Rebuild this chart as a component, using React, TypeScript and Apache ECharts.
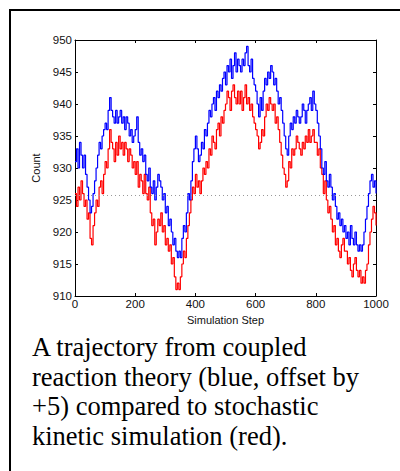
import React, { useEffect, useRef } from "react";
import * as echarts from "echarts";

// Simulation step spacing of the sampled trajectories (0..1000)
const STEP = 5;

// Stochastic kinetic simulation (red), sampled every 5 steps
const redValues: number[] = [
  926, 924, 927, 925, 928, 926, 924, 925, 922, 923,
  919, 918, 921, 923, 925, 924, 927, 928, 926, 929,
  931, 930, 933, 936, 934, 933, 931, 934, 932, 935,
  933, 934, 932, 934, 933, 931, 933, 932, 930, 931,
  929, 931, 927, 929, 928, 926, 929, 926, 925, 927,
  923, 921, 922, 918, 920, 922, 921, 923, 920, 921,
  918, 919, 917, 918, 915, 916, 913, 911, 912, 911,
  913, 915, 917, 916, 919, 921, 923, 925, 927, 926,
  929, 927, 928, 926, 928, 930, 929, 931, 930, 933,
  932, 935, 934, 933, 936, 937, 935, 938, 937, 939,
  940, 942, 941, 939, 942, 943, 941, 940, 942, 940,
  942, 939, 941, 943, 940, 941, 939, 940, 938, 937,
  936, 935, 933, 934, 936, 935, 938, 940, 939, 941,
  940, 939, 940, 937, 938, 936, 934, 932, 930, 929,
  927, 928, 931, 930, 933, 932, 933, 935, 934, 933,
  932, 934, 933, 935, 934, 936, 934, 935, 936, 934,
  934, 932, 933, 930, 929, 926, 928, 925, 923, 924,
  922, 920, 921, 918, 919, 917, 916, 918, 919, 917,
  917, 915, 916, 914, 913, 915, 916, 914, 913, 914,
  912, 913, 912, 914, 915, 918, 920, 922, 924, 923,
  921,
];

// Coupled reaction theory (blue, offset by +5), sampled every 5 steps
const blueValues: number[] = [
  931, 933, 930, 934, 932, 930, 932, 929, 927, 925,
  923, 924, 926, 928, 930, 932, 934, 933, 935, 936,
  937, 936, 939, 941, 939, 938, 937, 939, 937, 938,
  939, 937, 938, 936, 938, 937, 935, 936, 934, 935,
  936, 938, 934, 932, 933, 931, 932, 929, 928, 930,
  927, 926, 928, 925, 927, 929, 928, 927, 925, 926,
  923, 924, 921, 922, 920, 918, 919, 917, 916, 917,
  916, 919, 921, 920, 923, 926, 925, 928, 931, 933,
  935, 933, 931, 932, 934, 933, 936, 935, 937, 939,
  938, 940, 941, 939, 942, 941, 943, 942, 944, 945,
  943, 946, 945, 947, 944, 946, 948, 945, 947, 946,
  945, 947, 946, 948, 949, 946, 945, 947, 944, 943,
  942, 940, 938, 941, 939, 942, 944, 943, 945, 944,
  946, 945, 943, 944, 942, 940, 941, 939, 937, 935,
  933, 932, 935, 937, 936, 938, 937, 939, 938, 937,
  938, 940, 939, 937, 939, 940, 941, 939, 942, 940,
  939, 937, 935, 933, 930, 929, 931, 928, 927, 929,
  927, 925, 926, 924, 922, 923, 921, 922, 920, 921,
  919, 920, 918, 921, 919, 918, 920, 918, 917, 918,
  917, 918, 920, 922, 924, 926, 928, 929, 927, 928,
  926,
];

// Dotted reference level
const referenceLevel = 925.8;

// Axis ranges / ticks
const xRange = [0, 1000];
const xInterval = 200;
const yRange = [910, 950];
const yInterval = 5;

const captionLines = [
  "A trajectory from coupled",
  "reaction theory (blue, offset by",
  "+5) compared to stochastic",
  "kinetic simulation (red).",
];

const toPairs = (vals: number[]) => vals.map((v, i) => [i * STEP, v]);

export default function App() {
  const ref = useRef<HTMLDivElement>(null);

  useEffect(() => {
    if (!ref.current) return;
    const chart = echarts.init(ref.current, undefined, { renderer: "svg" });
    const sans = "'Liberation Sans', Arial, Helvetica, sans-serif";
    const serif = "'Liberation Serif', 'Times New Roman', serif";

    const baseX = {
      type: "value" as const,
      min: xRange[0],
      max: xRange[1],
      interval: xInterval,
      splitLine: { show: false },
      axisLine: { show: true, onZero: false, lineStyle: { color: "#000", width: 1 } },
      axisTick: { show: true, inside: true, length: 3, lineStyle: { color: "#000" } },
    };
    const baseY = {
      type: "value" as const,
      min: yRange[0],
      max: yRange[1],
      interval: yInterval,
      splitLine: { show: false },
      axisLine: { show: true, onZero: false, lineStyle: { color: "#000", width: 1 } },
      axisTick: { show: true, inside: true, length: 3, lineStyle: { color: "#000" } },
    };

    chart.setOption({
      animation: false,
      backgroundColor: "#fff",
      grid: { left: 75, right: 24, top: 40, bottom: 175 },
      xAxis: [
        {
          ...baseX,
          position: "bottom",
          name: "Simulation Step",
          nameLocation: "middle",
          nameGap: 17,
          nameTextStyle: { fontFamily: sans, fontSize: 11, color: "#111" },
          axisLabel: {
            fontFamily: sans,
            fontSize: 11.5,
            color: "#111",
            margin: 2,
            formatter: (v: number) => String(v),
          },
        },
        { ...baseX, position: "top", axisLabel: { show: false } },
      ],
      yAxis: [
        {
          ...baseY,
          position: "left",
          name: "Count",
          nameLocation: "middle",
          nameGap: 31,
          nameTextStyle: { fontFamily: sans, fontSize: 11, color: "#111" },
          axisLabel: { fontFamily: sans, fontSize: 11.5, color: "#111", margin: 3 },
        },
        { ...baseY, position: "right", axisLabel: { show: false } },
      ],
      series: [
        {
          name: "stochastic",
          type: "line",
          data: toPairs(redValues),
          xAxisIndex: 0,
          yAxisIndex: 0,
          showSymbol: false,
          symbol: "none",
          step: "end",
          lineStyle: { color: "#ff0000", width: 1.2 },
          markLine: {
            silent: true,
            symbol: "none",
            label: { show: false },
            lineStyle: { color: "#999", type: [1, 3], width: 1 },
            data: [{ yAxis: referenceLevel }],
          },
          z: 2,
        },
        {
          name: "coupled",
          type: "line",
          data: toPairs(blueValues),
          xAxisIndex: 0,
          yAxisIndex: 0,
          showSymbol: false,
          symbol: "none",
          step: "end",
          lineStyle: { color: "#0000ff", width: 1.2 },
          z: 3,
        },
      ],
      graphic: [
        {
          type: "polyline",
          shape: { points: [[10, 471], [10, 10], [400, 10]] },
          style: { stroke: "#000", lineWidth: 2, fill: "none" },
          silent: true,
        },
        ...captionLines.map((line, i) => ({
          type: "text",
          x: 32,
          y: 347 + i * 29.5,
          style: {
            text: line,
            fontFamily: serif,
            fontSize: 26.5,
            fill: "#000",
            verticalAlign: "middle",
          },
          silent: true,
        })),
      ],
    });

    return () => chart.dispose();
  }, []);

  return (
    <div
      ref={ref}
      style={{ position: "fixed", left: 0, top: 0, width: 400, height: 471, background: "#fff" }}
    />
  );
}
